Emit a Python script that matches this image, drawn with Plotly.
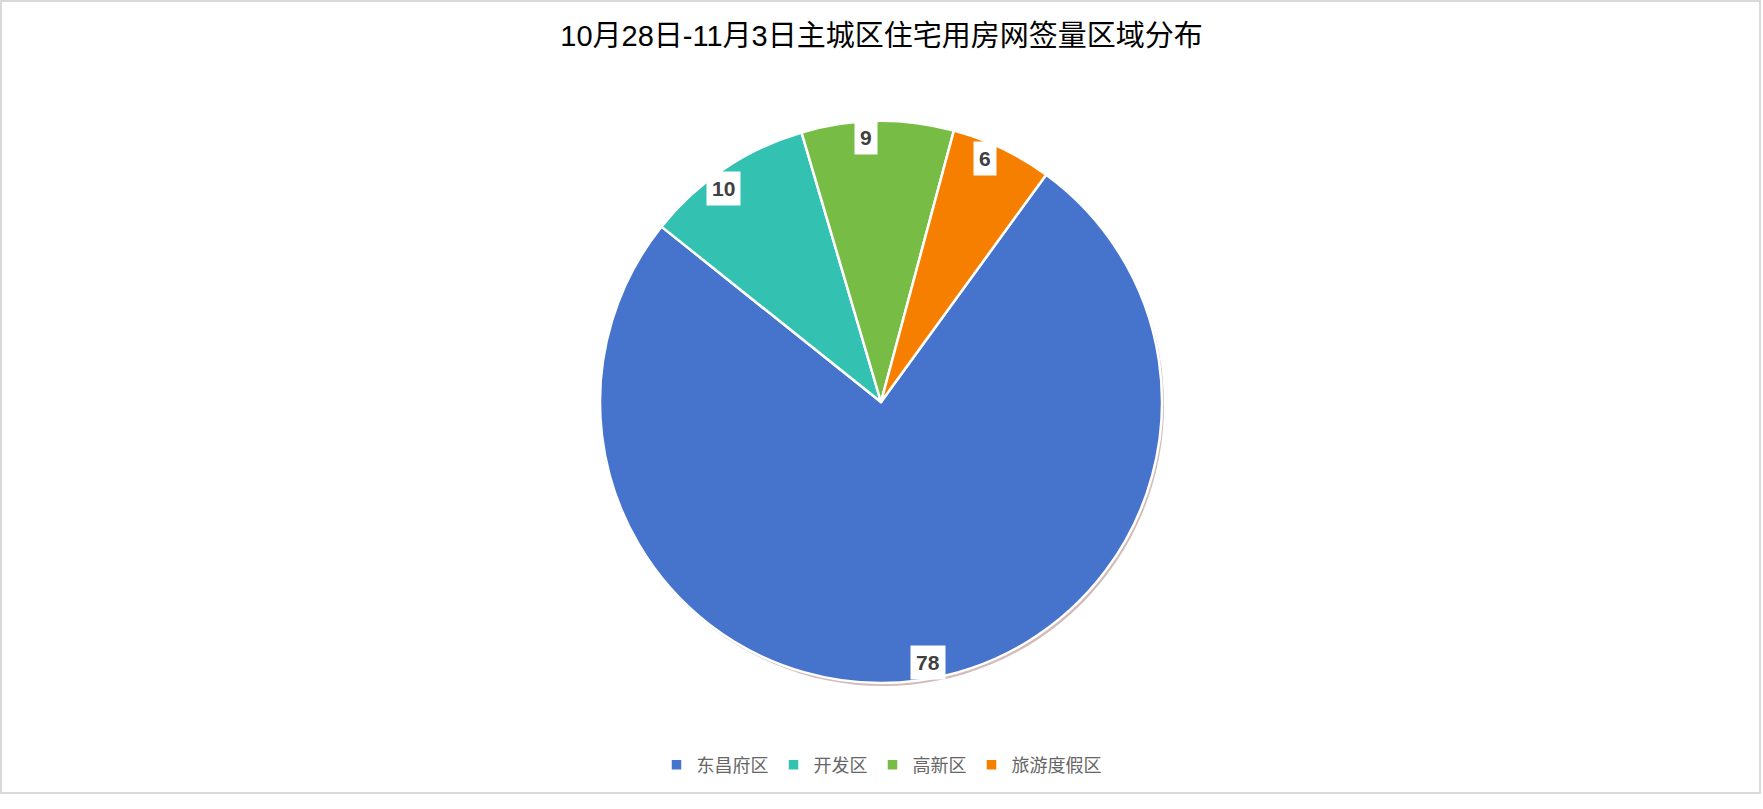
import math
import plotly.graph_objects as go

# 10月28日-11月3日 主城区住宅用房网签量
regions = ["东昌府区", "开发区", "高新区", "旅游度假区"]
counts = [78, 10, 9, 6]
colors = ["#4674CC", "#33C1B2", "#77BD45", "#F77F00"]
title_text = "10月28日-11月3日主城区住宅用房网签量区域分布"

W, H = 1763, 809
cx, cy, R = 881, 402, 281      # pie centre / radius in px
start_angle = 36               # first slice starts here (deg, clockwise from 12 o'clock)


def px_x(x):
    return x / W


def px_y(y):
    return 1 - y / H


fig = go.Figure()

# soft shadow under the pie
fig.add_trace(go.Pie(
    values=[1], labels=["shadow"], showlegend=False, sort=False,
    marker=dict(colors=["rgba(140,85,85,0.4)"], line=dict(width=0)),
    textinfo="none", hoverinfo="skip",
    domain=dict(x=[px_x(cx - R + 2), px_x(cx + R + 2)],
                y=[px_y(cy + R + 3), px_y(cy - R + 3)]),
))

fig.add_trace(go.Pie(
    labels=regions, values=counts, sort=False, direction="clockwise",
    rotation=start_angle,
    marker=dict(colors=colors, line=dict(color="white", width=2.5)),
    textinfo="none",
    domain=dict(x=[px_x(cx - R), px_x(cx + R)], y=[px_y(cy + R), px_y(cy - R)]),
))

# value labels in white boxes near the outer edge of each slice
total = sum(counts)
acc = 0
for v in counts:
    mid = start_angle + (acc + v / 2) / total * 360 - 2.5
    acc += v
    a = math.radians(mid)
    r_lab = R - 16
    fig.add_annotation(
        x=px_x(cx + r_lab * math.sin(a)), y=px_y(cy - r_lab * math.cos(a)),
        xref="paper", yref="paper", text="<b>%d</b>" % v, showarrow=False,
        font=dict(family="Liberation Sans, Arial", size=21, color="#404040"),
        bgcolor="white", borderpad=5, xanchor="center", yanchor="middle",
    )

# chart frame
fig.add_shape(type="rect", xref="paper", yref="paper",
              x0=px_x(1), x1=px_x(1760), y0=px_y(793), y1=px_y(1),
              line=dict(color="#D9D9D9", width=2), layer="below")

fig.update_layout(
    width=W, height=H,
    margin=dict(l=0, r=0, t=0, b=0),
    paper_bgcolor="white", plot_bgcolor="white",
    font=dict(family="Liberation Sans, Noto Sans CJK SC, Arial"),
    title=dict(text=title_text, x=0.5, xanchor="center",
               y=px_y(36), yanchor="middle", yref="container",
               font=dict(family="Liberation Sans, Noto Sans CJK SC", size=29, color="black")),
    legend=dict(orientation="h", x=0.5, xanchor="center", y=px_y(765), yanchor="middle",
                font=dict(size=18, color="#666666", family="Noto Sans CJK SC")),
)

fig.write_html("out.html", config={"displayModeBar": False},
               post_script="document.body.style.margin='0';document.body.style.overflow='hidden';")
